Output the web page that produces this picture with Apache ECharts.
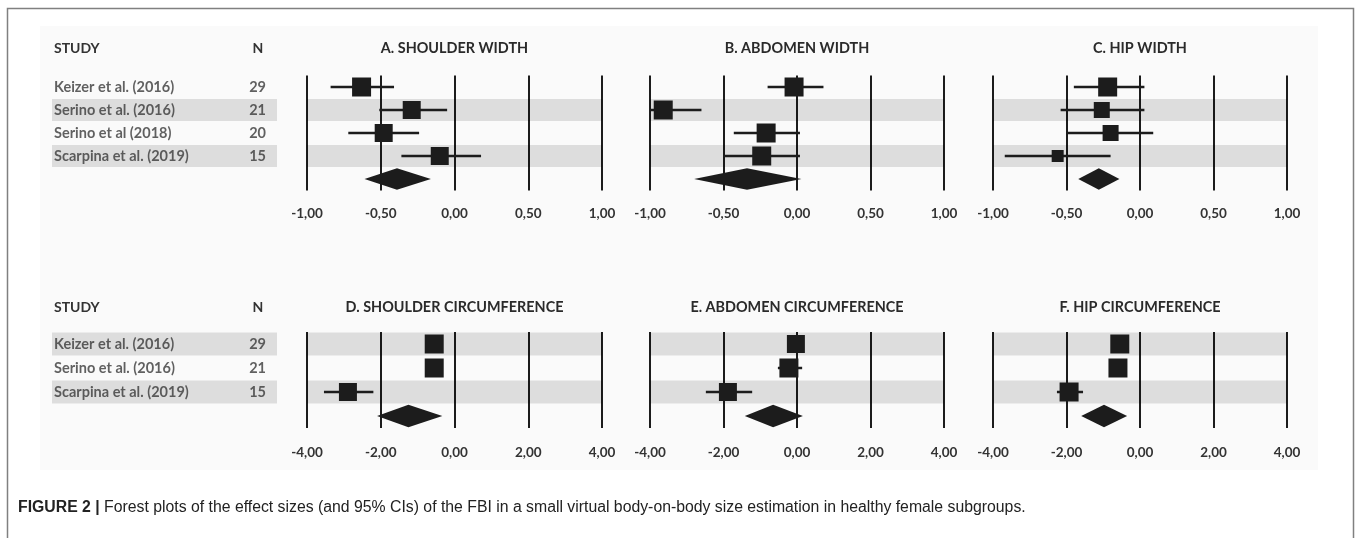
<!DOCTYPE html>
<html><head><meta charset="utf-8">
<script src="https://cdn.jsdelivr.net/npm/echarts/dist/echarts.min.js"></script>
<style>html,body{margin:0;padding:0;background:#fff}#c{width:1357px;height:538px}</style>
</head><body><div id="c"></div>
<script>
// ---------- DATA ----------
const studiesWidth = ['Keizer et al. (2016)', 'Serino et al. (2016)', 'Serino et al (2018)', 'Scarpina et al. (2019)'];
const nWidth = [29, 21, 20, 15];
const studiesCirc = ['Keizer et al. (2016)', 'Serino et al. (2016)', 'Scarpina et al. (2019)'];
const nCirc = [29, 21, 15];

const widthTicks = [-1, -0.5, 0, 0.5, 1];
const circTicks = [-4, -2, 0, 2, 4];

// A. Shoulder width
const shoulderWidthES = [-0.63, -0.29, -0.48, -0.10];
const shoulderWidthLo = [-0.84, -0.51, -0.72, -0.36];
const shoulderWidthHi = [-0.41, -0.05, -0.24, 0.18];
const shoulderWidthWeight = [19, 18, 18, 18];
const shoulderWidthPooled = [-0.61, -0.39, -0.16];
// B. Abdomen width
const abdomenWidthES = [-0.02, -0.91, -0.21, -0.24];
const abdomenWidthLo = [-0.20, -1.00, -0.43, -0.50];
const abdomenWidthHi = [0.18, -0.65, 0.02, 0.02];
const abdomenWidthWeight = [19, 19, 19, 19];
const abdomenWidthPooled = [-0.70, -0.34, 0.03];
// C. Hip width
const hipWidthES = [-0.22, -0.26, -0.20, -0.56];
const hipWidthLo = [-0.45, -0.54, -0.49, -0.92];
const hipWidthHi = [0.03, 0.03, 0.09, -0.20];
const hipWidthWeight = [19, 16, 16, 12];
const hipWidthPooled = [-0.42, -0.28, -0.14];
// D. Shoulder circumference
const shoulderCircES = [-0.55, -0.55, -2.89];
const shoulderCircLo = [-0.70, -0.70, -3.54];
const shoulderCircHi = [-0.40, -0.40, -2.20];
const shoulderCircWeight = [19, 19, 18];
const shoulderCircPooled = [-2.10, -1.25, -0.33];
// E. Abdomen circumference
const abdomenCircES = [-0.03, -0.22, -1.88];
const abdomenCircLo = [-0.12, -0.52, -2.48];
const abdomenCircHi = [0.10, 0.14, -1.22];
const abdomenCircWeight = [18, 19, 18];
const abdomenCircPooled = [-1.42, -0.65, 0.16];
// F. Hip circumference
const hipCircES = [-0.55, -0.60, -1.93];
const hipCircLo = [-0.65, -0.70, -2.26];
const hipCircHi = [-0.45, -0.50, -1.55];
const hipCircWeight = [19, 19, 19];
const hipCircPooled = [-1.60, -0.98, -0.35];

const panelTitles = ['A. SHOULDER WIDTH', 'B. ABDOMEN WIDTH', 'C. HIP WIDTH',
  'D. SHOULDER CIRCUMFERENCE', 'E. ABDOMEN CIRCUMFERENCE', 'F. HIP CIRCUMFERENCE'];
const caption = 'Forest plots of the effect sizes (and 95% CIs) of the FBI in a small virtual body-on-body size estimation in healthy female subgroups.';

// ---------- LAYOUT ----------
const FONT = 'Lato';
const INK = '#1c1c1c';
const BAND = 'rgba(0,0,0,0.115)';
const colLeft = [307, 650, 993];
const colW = [295, 294, 294];
const rowsTop = {top: 75.5, h: 115, margin: 16, titleTop: 41, bands: [1, 3]};
const rowsBot = {top: 332, h: 96, margin: 17.5, titleTop: 300, bands: [0, 2]};

const panels = [
  {es: shoulderWidthES, lo: shoulderWidthLo, hi: shoulderWidthHi, w: shoulderWidthWeight, pooled: shoulderWidthPooled, ticks: widthTicks, rows: rowsTop, col: 0},
  {es: abdomenWidthES, lo: abdomenWidthLo, hi: abdomenWidthHi, w: abdomenWidthWeight, pooled: abdomenWidthPooled, ticks: widthTicks, rows: rowsTop, col: 1},
  {es: hipWidthES, lo: hipWidthLo, hi: hipWidthHi, w: hipWidthWeight, pooled: hipWidthPooled, ticks: widthTicks, rows: rowsTop, col: 2},
  {es: shoulderCircES, lo: shoulderCircLo, hi: shoulderCircHi, w: shoulderCircWeight, pooled: shoulderCircPooled, ticks: circTicks, rows: rowsBot, col: 0},
  {es: abdomenCircES, lo: abdomenCircLo, hi: abdomenCircHi, w: abdomenCircWeight, pooled: abdomenCircPooled, ticks: circTicks, rows: rowsBot, col: 1},
  {es: hipCircES, lo: hipCircLo, hi: hipCircHi, w: hipCircWeight, pooled: hipCircPooled, ticks: circTicks, rows: rowsBot, col: 2}
];

const fmt = v => v.toFixed(2).replace('.', ',');

const grid = [], xAxis = [], yAxis = [], series = [], title = [];

function bandArea(bands, x0, x1) {
  return {silent: true, itemStyle: {color: BAND}, data: bands.map(r => [{xAxis: x0, yAxis: r - 0.48}, {xAxis: x1, yAxis: r + 0.48}])};
}

const labelStyle = {fontFamily: FONT, fontSize: 14.5, fontWeight: 'bold', color: '#3a3a3a'};

// Tables
const tables = [
  {names: studiesWidth, ns: nWidth, rows: rowsTop, nRows: 5},
  {names: studiesCirc, ns: nCirc, rows: rowsBot, nRows: 4}
];
tables.forEach((t, i) => {
  grid.push({left: 52, width: 225, top: t.rows.top, height: t.rows.h});
  xAxis.push({type: 'value', gridIndex: grid.length - 1, min: 0, max: 1, show: false});
  yAxis.push({type: 'value', gridIndex: grid.length - 1, min: -0.5, max: t.nRows - 0.5, inverse: true, show: false});
  const gi = grid.length - 1;
  series.push({
    type: 'scatter', xAxisIndex: gi, yAxisIndex: gi, symbolSize: 0, silent: true,
    data: t.names.map((n, r) => [0, r, n]),
    label: Object.assign({show: true, position: 'right', distance: 2, formatter: p => p.value[2]}, labelStyle),
    markArea: bandArea(t.rows.bands, 0, 1)
  });
  series.push({
    type: 'scatter', xAxisIndex: gi, yAxisIndex: gi, symbolSize: 0, silent: true,
    data: t.ns.map((n, r) => [1, r, n]),
    label: Object.assign({show: true, position: 'left', distance: 11, formatter: p => p.value[2]}, labelStyle)
  });
  title.push({text: 'STUDY', left: 54, top: t.rows.titleTop, padding: 0,
    textStyle: {fontFamily: FONT, fontSize: 14, fontWeight: 'bold', color: '#333'}});
  title.push({text: 'N', left: 258, top: t.rows.titleTop, padding: 0, textAlign: 'center',
    textStyle: {fontFamily: FONT, fontSize: 14, fontWeight: 'bold', color: '#333'}});
});

// Panels
panels.forEach((p, i) => {
  const n = p.es.length;
  const min = p.ticks[0], max = p.ticks[p.ticks.length - 1];
  grid.push({left: colLeft[p.col], width: colW[p.col], top: p.rows.top, height: p.rows.h});
  const gi = grid.length - 1;
  xAxis.push({type: 'value', gridIndex: gi, min: min, max: max, interval: p.ticks[1] - p.ticks[0],
    axisLine: {show: false}, axisTick: {show: false},
    splitLine: {show: true, showMinLine: true, showMaxLine: true, lineStyle: {color: INK, width: 2}},
    axisLabel: {formatter: fmt, margin: p.rows.margin, fontFamily: FONT, fontSize: 13.5, color: '#333', fontWeight: 'bold'}});
  yAxis.push({type: 'value', gridIndex: gi, min: -0.5, max: n + 0.5, inverse: true, show: false});
  title.push({text: panelTitles[i], left: colLeft[p.col] + colW[p.col] / 2, top: p.rows.titleTop, padding: 0, textAlign: 'center',
    textStyle: {fontFamily: FONT, fontSize: 14.4, fontWeight: 'bold', color: '#2a2a2a'}});
  // bands + whiskers
  series.push({
    type: 'custom', xAxisIndex: gi, yAxisIndex: gi, silent: true, clip: true,
    data: p.lo.map((lo, r) => [lo, p.hi[r], r]),
    encode: {x: [0, 1], y: 2},
    renderItem: (params, api) => {
      const a = api.coord([api.value(0), api.value(2)]);
      const b = api.coord([api.value(1), api.value(2)]);
      return {type: 'line', shape: {x1: a[0], y1: a[1], x2: b[0], y2: b[1]}, style: {stroke: INK, lineWidth: 2.5}};
    },
    markArea: bandArea(p.rows.bands, min, max),
    z: 3
  });
  // squares
  series.push({
    type: 'scatter', xAxisIndex: gi, yAxisIndex: gi, silent: true, symbol: 'rect',
    data: p.es.map((e, r) => ({value: [e, r], symbolSize: p.w[r]})),
    itemStyle: {color: INK, opacity: 1}, z: 4
  });
  // pooled diamond
  series.push({
    type: 'custom', xAxisIndex: gi, yAxisIndex: gi, silent: true,
    data: [[p.pooled[0], p.pooled[1], p.pooled[2], n]],
    encode: {x: [0, 1, 2], y: 3},
    renderItem: (params, api) => {
      const row = api.value(3);
      const l = api.coord([api.value(0), row]);
      const c = api.coord([api.value(1), row]);
      const r = api.coord([api.value(2), row]);
      const hh = api.size([0, 1])[1] * 0.47;
      return {type: 'polygon', shape: {points: [[l[0], l[1]], [c[0], c[1] - hh], [r[0], r[1]], [c[0], c[1] + hh]]},
        style: {fill: INK}};
    },
    z: 4
  });
});

title.push({
  text: '{b|FIGURE 2 |} ' + caption, left: 18, top: 500, padding: 0,
  textStyle: {fontFamily: 'Liberation Sans', fontSize: 15.8, color: '#222', fontWeight: 'normal',
    rich: {b: {fontFamily: 'Liberation Sans', fontSize: 15.8, fontWeight: 'bold', color: '#222'}}}
});

const chart = echarts.init(document.getElementById('c'), null, {renderer: 'canvas'});
chart.setOption({
  animation: false,
  backgroundColor: '#fff',
  graphic: [
    {type: 'rect', z: -10, silent: true, shape: {x: 40, y: 26, width: 1278, height: 444}, style: {fill: '#fafafa'}},
    {type: 'rect', z: 100, silent: true, shape: {x: 7.5, y: 8.5, width: 1346, height: 540}, style: {fill: 'none', stroke: '#808080', lineWidth: 1.5}}
  ],
  title, grid, xAxis, yAxis, series
});
</script>
</body></html>
